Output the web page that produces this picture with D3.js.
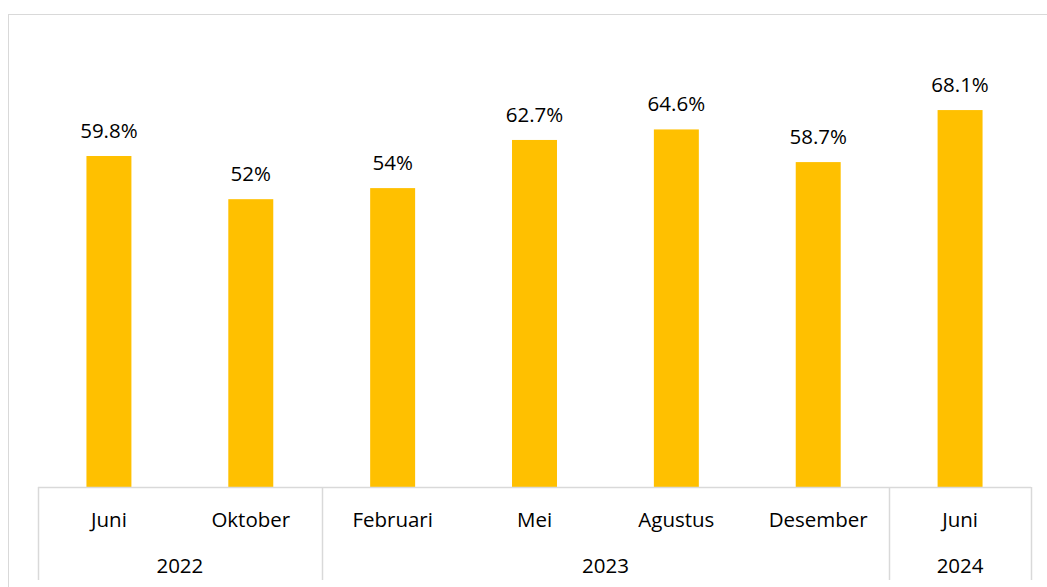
<!DOCTYPE html>
<html><head><meta charset="utf-8">
<script src="https://cdn.jsdelivr.net/npm/d3@7"></script>
<style>body{margin:0;background:#fff}svg{display:block}</style>
</head><body>
<script>
const months = ["Juni","Oktober","Februari","Mei","Agustus","Desember","Juni"];
const years = ["2022","2022","2023","2023","2023","2023","2024"];
const values = [59.8,52,54,62.7,64.6,58.7,68.1];
const valueLabels = ["59.8%","52%","54%","62.7%","64.6%","58.7%","68.1%"];
const yearGroups = ["2022","2023","2024"];

const W=1047,H=587;
const svg=d3.select("body").append("svg").attr("width",W).attr("height",H);
const font="'Open Sans', Carlito, Calibri, sans-serif";
const fs=20.5;

svg.append("rect").attr("x",8.5).attr("y",14.5).attr("width",W+10).attr("height",H+10)
  .attr("fill","#fff").attr("stroke","#D9D9D9").attr("stroke-width",1);

const idx=d3.range(values.length);
const x=d3.scaleBand().domain(idx).range([38,1031]).paddingInner(0.683).paddingOuter(0.3415);
const y=d3.scaleLinear().domain([0,80]).range([487,44.2]);

svg.selectAll("rect.bar").data(idx).join("rect").attr("class","bar")
  .attr("x",i=>x(i)).attr("width",x.bandwidth())
  .attr("y",i=>y(values[i])).attr("height",i=>y(0)-y(values[i]))
  .attr("fill","#FFC000");

svg.selectAll("text.val").data(idx).join("text").attr("class","val")
  .attr("x",i=>x(i)+x.bandwidth()/2).attr("y",i=>y(values[i])-18)
  .attr("text-anchor","middle").attr("font-family",font).attr("font-size",fs).attr("fill","#000")
  .text(i=>valueLabels[i]);

const step=x.step();
const left=38,right=1031;
svg.append("line").attr("x1",left).attr("x2",right).attr("y1",487.5).attr("y2",487.5)
  .attr("stroke","#D9D9D9").attr("stroke-width",1.5);

const catStart=i=>x(i)+x.bandwidth()/2-step/2;
const groups=yearGroups.map(g=>{
  const ii=idx.filter(i=>years[i]===g);
  return {g, start:catStart(ii[0]), end:catStart(ii[ii.length-1])+step};
});
const bounds=[groups[0].start, ...groups.map(g=>g.end)];
svg.selectAll("line.sep").data(bounds).join("line").attr("class","sep")
  .attr("x1",d=>Math.round(d)+0.5).attr("x2",d=>Math.round(d)+0.5)
  .attr("y1",487).attr("y2",580).attr("stroke","#D9D9D9").attr("stroke-width",1.5);

svg.selectAll("text.month").data(idx).join("text").attr("class","month")
  .attr("x",i=>x(i)+x.bandwidth()/2).attr("y",526.5)
  .attr("text-anchor","middle").attr("font-family",font).attr("font-size",fs).attr("fill","#000")
  .text(i=>months[i]);

svg.selectAll("text.year").data(groups).join("text").attr("class","year")
  .attr("x",d=>(d.start+d.end)/2).attr("y",573)
  .attr("text-anchor","middle").attr("font-family",font).attr("font-size",fs).attr("fill","#000")
  .text(d=>d.g);
</script>
</body></html>
